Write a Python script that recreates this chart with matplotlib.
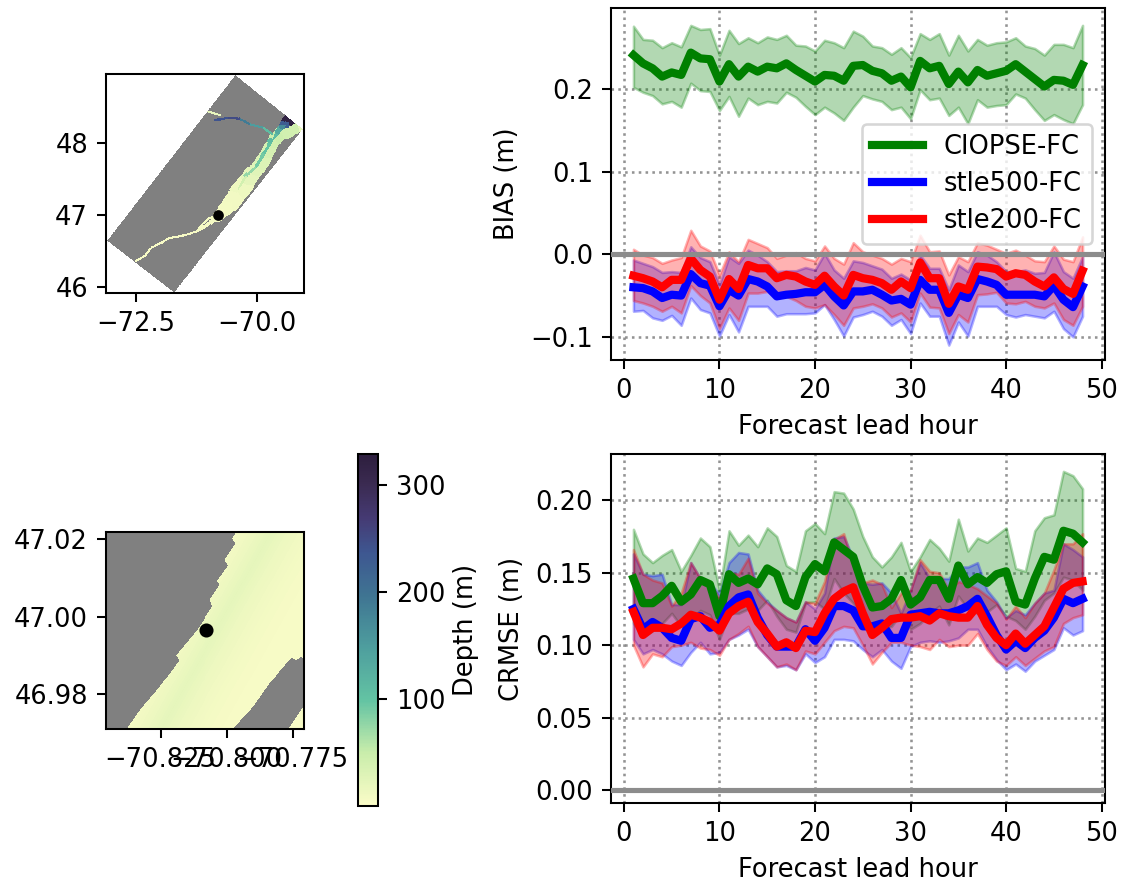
import numpy as np
import matplotlib
matplotlib.use("Agg")
import matplotlib.pyplot as plt
from matplotlib.colors import LinearSegmentedColormap, ListedColormap, Normalize
from matplotlib.path import Path

W, H, DPI = 1122, 884, 185

hours = list(range(1, 49))

# ---------- BIAS ----------
bias_green = [.241,.231,.225,.215,.22,.217,.244,.237,.236,.209,.23,.215,.227,.221,.227,.225,.231,.223,.216,.209,.217,.216,.21,.228,.229,.222,.219,.21,.215,.202,.234,.225,.228,.206,.221,.208,.223,.216,.219,.222,.23,.221,.212,.203,.211,.21,.205,.229]
bias_green_hi = [.276,.26,.259,.25,.256,.251,.277,.272,.273,.241,.271,.255,.262,.256,.263,.26,.265,.253,.252,.246,.259,.256,.25,.27,.264,.252,.25,.242,.25,.238,.267,.26,.267,.241,.265,.246,.26,.253,.256,.257,.262,.252,.249,.241,.254,.254,.25,.277]
bias_green_lo = [.202,.196,.192,.182,.185,.178,.207,.198,.197,.174,.191,.167,.189,.181,.185,.183,.196,.19,.179,.169,.178,.171,.162,.178,.192,.188,.185,.175,.178,.164,.199,.187,.189,.168,.178,.158,.187,.178,.18,.181,.194,.189,.175,.162,.169,.163,.158,.181]
bias_blue = [-.04,-.041,-.045,-.053,-.049,-.05,-.024,-.035,-.038,-.063,-.043,-.05,-.03,-.033,-.039,-.051,-.049,-.048,-.046,-.046,-.037,-.051,-.062,-.045,-.045,-.043,-.049,-.056,-.054,-.061,-.031,-.043,-.043,-.071,-.049,-.053,-.03,-.033,-.037,-.049,-.049,-.049,-.049,-.051,-.038,-.055,-.064,-.039]
bias_blue_hi = [-.007,-.011,-.015,-.022,-.021,-.022,.009,-.004,-.009,-.037,-.003,-.011,.005,-.001,-.009,-.021,-.02,-.02,-.016,-.019,.001,-.019,-.029,-.008,-.01,-.014,-.018,-.029,-.024,-.031,-.001,-.017,-.017,-.043,-.013,-.021,.003,-.001,-.009,-.021,-.021,-.019,-.023,-.022,.003,-.021,-.029,-.003]
bias_blue_lo = [-.069,-.068,-.077,-.08,-.074,-.086,-.053,-.067,-.071,-.099,-.073,-.094,-.063,-.063,-.063,-.075,-.072,-.072,-.072,-.071,-.061,-.079,-.099,-.076,-.073,-.069,-.075,-.086,-.079,-.096,-.059,-.075,-.075,-.11,-.082,-.099,-.063,-.063,-.063,-.073,-.076,-.073,-.075,-.077,-.069,-.09,-.1,-.075]
bias_red = [-.026,-.029,-.033,-.04,-.031,-.031,-.005,-.019,-.027,-.055,-.03,-.042,-.013,-.017,-.017,-.029,-.025,-.027,-.033,-.037,-.026,-.039,-.05,-.025,-.029,-.031,-.035,-.043,-.033,-.041,-.01,-.029,-.029,-.06,-.039,-.043,-.015,-.016,-.018,-.027,-.023,-.025,-.033,-.039,-.028,-.042,-.048,-.02]
bias_red_hi = [.006,-.001,-.004,-.011,-.007,-.004,.029,.01,.004,-.025,.003,-.009,.018,.013,.008,-.005,-.001,.002,-.005,-.008,.01,-.005,-.012,.014,.003,-.001,-.005,-.012,-.005,-.009,.023,.003,.004,-.025,-.003,-.009,.014,.011,.006,.001,.005,-.001,-.008,-.009,.01,-.006,-.009,.021]
bias_red_lo = [-.056,-.059,-.063,-.069,-.063,-.071,-.038,-.05,-.059,-.09,-.065,-.08,-.047,-.047,-.045,-.053,-.051,-.056,-.063,-.065,-.061,-.073,-.086,-.065,-.063,-.06,-.065,-.076,-.071,-.082,-.047,-.064,-.065,-.096,-.073,-.082,-.049,-.048,-.046,-.059,-.06,-.057,-.063,-.065,-.059,-.079,-.086,-.063]

# ---------- CRMSE ----------
crmse_green = [.146,.129,.129,.134,.141,.13,.135,.145,.142,.12,.149,.143,.146,.142,.153,.149,.131,.127,.147,.156,.151,.171,.166,.161,.141,.126,.127,.132,.145,.128,.133,.145,.145,.132,.155,.142,.147,.143,.149,.151,.13,.128,.146,.161,.159,.179,.177,.171]
crmse_green_hi = [.18,.163,.157,.162,.166,.151,.162,.174,.168,.138,.179,.169,.176,.168,.181,.175,.155,.151,.179,.184,.177,.206,.205,.194,.175,.161,.154,.161,.171,.151,.161,.173,.167,.158,.187,.165,.174,.171,.176,.181,.153,.151,.179,.188,.19,.22,.217,.208]
crmse_green_lo = [.115,.106,.11,.115,.122,.113,.118,.124,.121,.104,.122,.122,.125,.124,.131,.12,.111,.109,.129,.13,.125,.146,.136,.129,.119,.111,.111,.113,.122,.111,.115,.122,.127,.114,.134,.125,.122,.123,.128,.12,.117,.111,.12,.131,.136,.147,.145,.138]
crmse_blue = [.125,.111,.116,.112,.105,.103,.118,.12,.112,.114,.127,.133,.135,.119,.107,.099,.099,.099,.111,.103,.112,.127,.127,.124,.113,.113,.115,.105,.105,.121,.122,.123,.122,.122,.124,.127,.132,.12,.107,.097,.103,.098,.105,.11,.119,.132,.129,.132]
crmse_blue_hi = [.163,.149,.148,.149,.128,.128,.157,.146,.143,.135,.157,.164,.163,.138,.13,.124,.119,.116,.13,.125,.136,.174,.175,.16,.143,.142,.143,.136,.122,.138,.157,.146,.146,.146,.154,.154,.157,.138,.13,.119,.124,.121,.129,.136,.138,.17,.166,.161]
crmse_blue_lo = [.104,.094,.097,.094,.089,.086,.095,.102,.094,.095,.104,.107,.111,.099,.092,.085,.086,.083,.094,.088,.092,.104,.104,.103,.097,.092,.097,.089,.084,.099,.102,.103,.102,.103,.105,.111,.111,.099,.09,.083,.087,.082,.089,.093,.097,.112,.107,.11]
crmse_red = [.123,.107,.112,.112,.111,.115,.121,.119,.116,.11,.122,.127,.13,.116,.108,.099,.102,.098,.11,.109,.122,.132,.137,.14,.122,.107,.112,.118,.119,.119,.12,.117,.122,.12,.119,.119,.127,.114,.105,.1,.108,.101,.107,.113,.126,.139,.143,.144]
crmse_red_hi = [.166,.149,.145,.143,.127,.136,.157,.146,.143,.132,.15,.149,.16,.136,.129,.124,.119,.116,.13,.129,.144,.173,.177,.155,.143,.145,.142,.126,.136,.138,.159,.151,.15,.138,.144,.142,.139,.134,.129,.118,.127,.119,.129,.136,.152,.17,.17,.177]
crmse_red_lo = [.1,.085,.094,.092,.099,.1,.102,.098,.097,.093,.104,.108,.113,.099,.092,.085,.087,.083,.096,.094,.102,.11,.113,.112,.1,.087,.095,.102,.102,.1,.099,.097,.104,.099,.1,.1,.108,.097,.089,.086,.092,.086,.091,.096,.099,.115,.119,.121]

# ---------- Map: depth colour scale ----------
depth_colors = ["#FBFCC8", "#C9EDAB", "#63C3A3", "#4E9E9E", "#3F7492", "#3E5791", "#453A73", "#3A2A50", "#2D1E3E"]
depth_stops = [0, .15, .3, .45, .6, .72, .82, .92, 1]
depth_max = 329

# Model domain corners (lon, lat)
domain_lon = [-73.09, -71.71, -70.44, -69.05]
domain_lat = [46.64, 45.92, 48.95, 48.20]

# River reaches: lon, lat, half width (px), depth (m)
river_lon = [-72.499,-72.312,-72.174,-71.967,-71.829,-71.553,-71.243,-71.139,-71.001,-70.794]
river_lat = [46.359,46.429,46.545,46.615,46.675,46.708,46.768,46.861,46.949,47.010]
river_r = [0.9,0.9,0.9,0.9,0.9,0.9,0.9,0.8,0.8,0.8]
river_d = [5,5,5,6,6,6,7,7,7,8]
river2_lon = [-71.243,-71.1,-70.95,-70.794]
river2_lat = [46.768,46.83,46.90,46.97]
river2_r = [1.2,1.6,2.2,3]
river2_d = [6,6,7,7]
est_lon = [-70.794,-70.656,-70.518,-70.380,-70.242,-70.104,-69.966,-69.828,-69.724,-69.621,-69.483,-69.345,-69.138,-69.06]
est_lat = [46.986,47.079,47.172,47.312,47.428,47.568,47.661,47.800,47.940,48.056,48.149,48.172,48.242,48.22]
est_r = [5.5,7,8.5,9,8,7,7,6.5,6,6.5,7,6,5,4]
est_d = [6,8,10,14,22,28,32,36,40,45,42,40,18,12]
core_lon = [-70.380,-70.207,-70.000,-69.828,-69.690,-69.552,-69.483]
core_lat = [47.350,47.544,47.661,47.846,48.009,48.125,48.195]
core_r = [3,4,4.5,4.5,5,5,5]
core_d = [40,75,90,100,110,130,160]
head_lon = [-69.480,-69.400,-69.330,-69.250]
head_lat = [48.205,48.250,48.300,48.345]
head_r = [4.5,6,7.5,5]
head_d = [170,230,320,310]
sag_lon = [-69.669,-69.862,-70.138,-70.345,-70.587,-70.863]
sag_lat = [48.126,48.218,48.265,48.344,48.358,48.325]
sag_r = [1.0]*6
sag_d = [110,150,190,250,240,120]
sag2_lon = [-71.036,-70.746]
sag2_lat = [48.451,48.395]
sag2_r = [0.8,0.8]
sag2_d = [20,60]
reaches = [(river_lon,river_lat,river_r,river_d),(river2_lon,river2_lat,river2_r,river2_d),
           (est_lon,est_lat,est_r,est_d),(core_lon,core_lat,core_r,core_d),
           (head_lon,head_lat,head_r,head_d),(sag_lon,sag_lat,sag_r,sag_d),
           (sag2_lon,sag2_lat,sag2_r,sag2_d)]

# Inset map coastlines
coast_w_lon = [-70.8377,-70.8329,-70.8259,-70.8180,-70.8192,-70.8114,-70.8053,-70.8063,-70.8026,-70.8036,-70.7994,-70.8007,-70.7966,-70.7978,-70.7962]
coast_w_lat = [46.9712,46.9759,46.9815,46.9888,46.9901,46.9965,47.0026,47.0043,47.0081,47.0093,47.0133,47.0148,47.0189,47.0202,47.0219]
coast_e_lon = [-70.7710,-70.7720,-70.7735,-70.7754,-70.7792,-70.7836,-70.7899,-70.7973]
coast_e_lat = [46.9892,46.9898,46.9888,46.9895,46.9866,46.9828,46.9767,46.9712]
corner_lon = [-70.7764,-70.7710,-70.7700,-70.7700]
corner_lat = [46.9712,46.9767,46.9767,46.9712]
band_offset = [0,.006,.013,.02,.03,.04,.07]
band_depth = [7,13,22,14,7,4,4]

station_lon, station_lat = -70.8078, 46.9965

# ---------- Figure ----------
plt.rcParams["font.family"] = "DejaVu Sans"
fig = plt.figure(figsize=(W/DPI, H/DPI), dpi=DPI)
def axpx(l, t, r, b):
    return fig.add_axes([l/W, 1-b/H, (r-l)/W, (b-t)/H])

cmap = LinearSegmentedColormap.from_list("depth", list(zip(depth_stops, depth_colors)))
norm = Normalize(0, depth_max)
gray = ListedColormap(["#808080"])

# --- Overview map ---
ax1 = axpx(106, 74, 304, 293)
u, v = np.meshgrid(np.linspace(0, 1, 181), np.linspace(0, 1, 361))
A, B, D, C = [np.array([domain_lon[i], domain_lat[i]]) for i in range(4)]
glon = (1-v)*((1-u)*A[0]+u*B[0]) + v*((1-u)*D[0]+u*C[0])
glat = (1-v)*((1-u)*A[1]+u*B[1]) + v*((1-u)*D[1]+u*C[1])
ax1.pcolormesh(glon, glat, np.zeros((360, 180)), cmap=gray, shading="flat", rasterized=True)
clon = .25*(glon[:-1,:-1]+glon[1:,:-1]+glon[:-1,1:]+glon[1:,1:])
clat = .25*(glat[:-1,:-1]+glat[1:,:-1]+glat[:-1,1:]+glat[1:,1:])
best = np.full(clon.shape, np.inf)
field = np.full(clon.shape, np.nan)
SX, SY = 48.3, 71.7
for rlon, rlat, rr, rd in reaches:
    for i in range(len(rlon)-1):
        x0, y0 = rlon[i]*SX, rlat[i]*SY
        x1, y1 = rlon[i+1]*SX, rlat[i+1]*SY
        dx, dy = x1-x0, y1-y0
        t = np.clip(((clon*SX-x0)*dx+(clat*SY-y0)*dy)/(dx*dx+dy*dy), 0, 1)
        dist = np.hypot(clon*SX-(x0+t*dx), clat*SY-(y0+t*dy))/rr[i]
        hit = (dist < 1) & (dist < best)
        best[hit] = dist[hit]
        field[hit] = rd[i]
ax1.pcolormesh(glon, glat, np.ma.masked_invalid(field), cmap=cmap, norm=norm, shading="flat", rasterized=True)
ax1.scatter([station_lon], [station_lat+0.0035], s=10, c="k", zorder=5)
ax1.set_xlim(-73.12, -69.02)
ax1.set_ylim(45.91, 48.97)
ax1.set_xticks([-72.5, -70.0])
ax1.set_yticks([46, 47, 48])

# --- Inset map ---
ax2 = axpx(106, 532, 304, 729)
xe = np.linspace(-70.8457, -70.7707, 200)
ye = np.linspace(46.971, 47.0219, 200)
xc, yc = np.meshgrid(.5*(xe[1:]+xe[:-1]), .5*(ye[1:]+ye[:-1]))
pts = np.column_stack([xc.ravel(), yc.ravel()])
water_poly = list(zip(coast_w_lon, coast_w_lat)) + [(-70.7962, 47.03), (-70.7700, 47.03), (-70.7700, 46.9892)] \
    + list(zip(coast_e_lon, coast_e_lat)) + [(-70.7973, 46.9700), (-70.8377, 46.9700)]
inside = Path(water_poly + [water_poly[0]]).contains_points(pts)
inside |= Path(list(zip(corner_lon, corner_lat)) + [(corner_lon[0], corner_lat[0])]).contains_points(pts)
inside = inside.reshape(xc.shape)
offset = xc - 0.82*(yc-46.9712) + 70.8377
depth2 = np.interp(offset, band_offset, band_depth)
ax2.pcolormesh(xe, ye, np.zeros(xc.shape), cmap=gray, shading="flat", rasterized=True)
ax2.pcolormesh(xe, ye, np.ma.masked_where(~inside, depth2), cmap=cmap, norm=norm, shading="flat", rasterized=True)
ax2.scatter([station_lon], [station_lat], s=20, c="k", zorder=5)
ax2.set_xlim(-70.8457, -70.7707)
ax2.set_ylim(46.971, 47.0219)
ax2.set_xticks([-70.825, -70.800, -70.775])
ax2.set_xticklabels(["\u221270.825", "\u221270.800", "\u221270.775"])
ax2.set_yticks([46.98, 47.00, 47.02])
ax2.set_yticklabels(["46.98", "47.00", "47.02"])

# --- Colorbar ---
cax = axpx(358, 454, 378, 806)
sm = plt.cm.ScalarMappable(norm=norm, cmap=cmap)
cb = fig.colorbar(sm, cax=cax)
cb.set_ticks([100, 200, 300])
cb.set_label("Depth (m)", labelpad=3)

# --- Time series ---
def series(ax, m, hi, lo, col, label):
    ax.plot(hours, m, color=col, lw=3.2, label=label, zorder=4)
    ax.fill_between(hours, lo, hi, color=col, alpha=.3, zorder=3)

ax3 = axpx(611, 8, 1105, 360)
series(ax3, bias_green, bias_green_hi, bias_green_lo, "green", "CIOPSE-FC")
series(ax3, bias_blue, bias_blue_hi, bias_blue_lo, "blue", "stle500-FC")
series(ax3, bias_red, bias_red_hi, bias_red_lo, "red", "stle200-FC")
ax3.set_ylim(-0.128, 0.298)
ax3.set_yticks([-0.1, 0, 0.1, 0.2])
ax3.set_ylabel("BIAS (m)")
ax3.legend(loc="center right", labelspacing=0.42)

ax4 = axpx(611, 454, 1105, 803)
series(ax4, crmse_green, crmse_green_hi, crmse_green_lo, "green", "CIOPSE-FC")
series(ax4, crmse_blue, crmse_blue_hi, crmse_blue_lo, "blue", "stle500-FC")
series(ax4, crmse_red, crmse_red_hi, crmse_red_lo, "red", "stle200-FC")
ax4.set_ylim(-0.009, 0.232)
ax4.set_yticks([0, .05, .10, .15, .20])
ax4.set_ylabel("CRMSE (m)")

for ax in (ax3, ax4):
    ax.axhline(0, color="#8c8c8c", lw=2, zorder=5)
    ax.set_xlim(-1.35, 50.35)
    ax.set_xticks(range(0, 51, 10))
    ax.set_xlabel("Forecast lead hour", labelpad=4)
    ax.grid(True, color="gray", ls=":", lw=1, alpha=.85)
    ax.set_axisbelow(True)

fig.savefig("out.png", dpi=DPI)
